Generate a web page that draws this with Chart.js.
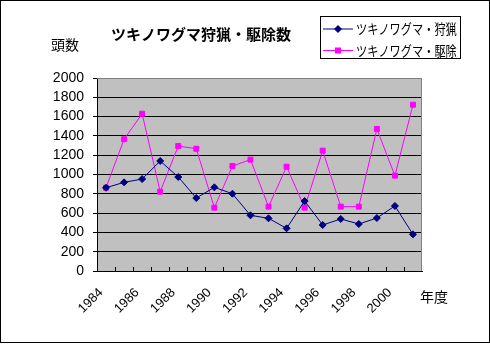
<!DOCTYPE html>
<html>
<head>
<meta charset="utf-8">
<script src="https://cdn.jsdelivr.net/npm/chart.js@4"></script>
<style>
  body { margin: 0; background: #fff; }
  canvas { display: block; }
</style>
</head>
<body>
<canvas id="myChart" width="490" height="344"></canvas>
<script>
// 年度と頭数
let years = ["1984", "1985", "1986", "1987", "1988", "1989", "1990", "1991", "1992",
  "1993", "1994", "1995", "1996", "1997", "1998", "1999", "2000", "2001"]
let hunting = [863, 919, 953, 1140, 974, 756, 867, 801, 577, 546, 442, 725, 477, 539, 487, 549, 674, 380]
let culling = [863, 1365, 1630, 822, 1295, 1267, 656, 1088, 1154, 667, 1081, 656, 1247, 667, 667, 1472, 988, 1723]
let yTicks = [0, 200, 400, 600, 800, 1000, 1200, 1400, 1600, 1800, 2000]

let title = "ツキノワグマ狩猟・駆除数"
let yTitle = "頭数"
let xTitle = "年度"

let navy = "#000080"
let magenta = "#FF00FF"
let jpFont = '"Noto Sans CJK JP", sans-serif'
let numFont = '"Liberation Sans", Arial, sans-serif'

// 背景・枠・タイトル・凡例
let decor = {
  id: "decor",
  beforeDraw(chart) {
    let ctx = chart.ctx
    let a = chart.chartArea
    ctx.save()
    ctx.fillStyle = "#fff"
    ctx.fillRect(0, 0, chart.width, chart.height)
    ctx.fillStyle = "#C0C0C0"
    ctx.fillRect(a.left, a.top, a.right - a.left, a.bottom - a.top)
    ctx.restore()
  },
  beforeDatasetsDraw(chart) {
    let ctx = chart.ctx
    let a = chart.chartArea
    ctx.save()
    ctx.strokeStyle = "#808080"
    ctx.lineWidth = 1
    ctx.beginPath()
    ctx.moveTo(a.left, a.top + 0.5)
    ctx.lineTo(a.right - 0.5, a.top + 0.5)
    ctx.lineTo(a.right - 0.5, a.bottom)
    ctx.stroke()
    // 目盛り（内向き）
    ctx.strokeStyle = "#000"
    let n = years.length
    let step = (a.right - a.left) / n
    ctx.beginPath()
    for (let i = 1; i < n; i++) {
      let x = Math.round(a.left + i * step) + 0.5
      ctx.moveTo(x, a.bottom)
      ctx.lineTo(x, a.bottom - 4)
    }
    ctx.stroke()
    ctx.restore()
  },
  afterDraw(chart) {
    let ctx = chart.ctx
    ctx.save()
    ctx.fillStyle = "#000"
    ctx.textBaseline = "middle"
    ctx.textAlign = "center"
    ctx.font = "bold 15px " + jpFont
    ctx.fillText(title, 201, 34)
    ctx.font = "14px " + jpFont
    ctx.fillText(yTitle, 65, 45)
    ctx.fillText(xTitle, 434, 297)

    // 凡例
    ctx.strokeStyle = "#000"
    ctx.lineWidth = 1
    ctx.strokeRect(320.5, 16.5, 140, 42)
    let items = [
      { label: chart.data.datasets[0].label, color: navy, style: "diamond", y: 29 },
      { label: chart.data.datasets[1].label, color: magenta, style: "square", y: 50.5 }
    ]
    items.forEach(function(it) {
      ctx.strokeStyle = it.color
      ctx.fillStyle = it.color
      ctx.beginPath()
      ctx.moveTo(323, it.y)
      ctx.lineTo(353, it.y)
      ctx.stroke()
      ctx.beginPath()
      if (it.style === "diamond") {
        ctx.moveTo(338, it.y - 4)
        ctx.lineTo(342, it.y)
        ctx.lineTo(338, it.y + 4)
        ctx.lineTo(334, it.y)
        ctx.closePath()
      } else {
        ctx.rect(335, it.y - 3, 6, 6)
      }
      ctx.fill()
      ctx.save()
      ctx.translate(356, it.y)
      ctx.scale(0.8, 1)
      ctx.fillStyle = "#000"
      ctx.textAlign = "left"
      ctx.font = "14px " + jpFont
      ctx.fillText(it.label, 0, 0)
      ctx.restore()
    })

    // 外枠
    ctx.strokeStyle = "#000"
    ctx.strokeRect(0.5, 0.5, chart.width - 1, chart.height - 2)
    ctx.restore()
  }
}

let data = {
  labels: years,
  datasets: [{
    label: "ツキノワグマ・狩猟",
    data: hunting,
    borderColor: navy,
    backgroundColor: navy,
    borderWidth: 1,
    pointStyle: "rectRot",
    pointRadius: 3.5,
    pointBorderWidth: 1,
    tension: 0
  }, {
    label: "ツキノワグマ・駆除",
    data: culling,
    borderColor: magenta,
    backgroundColor: magenta,
    borderWidth: 1,
    pointStyle: "rect",
    pointRadius: 3.5,
    pointBorderWidth: 1,
    tension: 0
  }]
}

let config = {
  type: "line",
  data: data,
  options: {
    responsive: false,
    animation: false,
    devicePixelRatio: 1,
    layout: { padding: { left: 0, top: 78, right: 68, bottom: 0 } },
    plugins: {
      legend: { display: false },
      title: { display: false },
      tooltip: { enabled: false }
    },
    scales: {
      x: {
        offset: true,
        grid: { display: true, drawOnChartArea: false, drawTicks: false },
        border: { display: true, color: "#000", width: 1 },
        ticks: {
          autoSkip: false,
          minRotation: 45,
          maxRotation: 45,
          padding: 14,
          labelOffset: -5,
          color: "#000",
          font: { family: numFont, size: 13 },
          callback: function(v, i) { return i % 2 === 0 ? years[i] : "" }
        },
        afterFit: function(scale) { scale.height = 73 }
      },
      y: {
        min: 0,
        max: 2000,
        afterBuildTicks: function(scale) {
          scale.ticks = yTicks.map(function(v) { return { value: v } })
        },
        grid: {
          color: function(c) { return c.tick && c.tick.value === 2000 ? "#808080" : "#000" },
          tickColor: "#000",
          tickLength: 4,
          lineWidth: 1
        },
        border: { display: true, color: "#000", width: 1 },
        ticks: {
          autoSkip: false,
          padding: 9,
          color: "#000",
          font: { family: numFont, size: 14 },
          callback: function(v) { return String(v) }
        },
        afterFit: function(scale) { scale.width = 97 }
      }
    }
  },
  plugins: [decor]
}

myChart = new Chart(document.getElementById("myChart"), config)
</script>
</body>
</html>
